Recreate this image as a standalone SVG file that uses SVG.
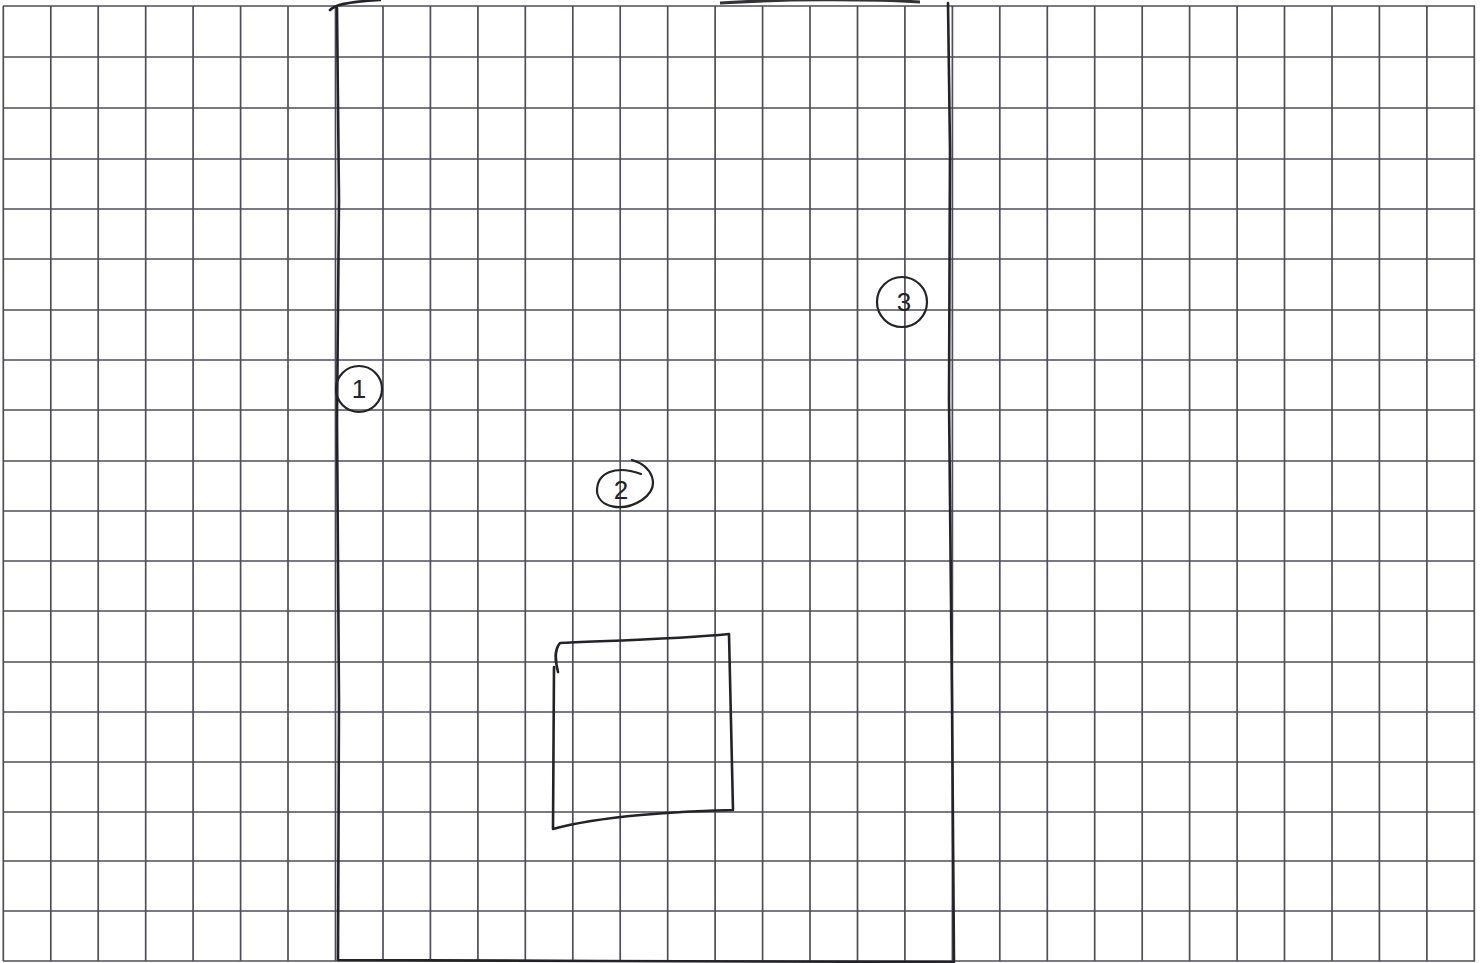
<svg xmlns="http://www.w3.org/2000/svg" width="1482" height="963" viewBox="0 0 1482 963">
<style>
.grid line{stroke:#4e4e58;stroke-width:1.7}
.ink{fill:none;stroke:#222228;stroke-width:2.6;stroke-linecap:round;stroke-linejoin:round}
.num{font-family:"Liberation Sans",Arial,sans-serif;font-size:26px;fill:#222228;text-anchor:middle}
</style>
<rect width="1482" height="963" fill="#ffffff"/>
<g id="grid" class="grid">
<line x1="3.3" y1="6" x2="3.3" y2="961"/><line x1="50.8" y1="6" x2="50.8" y2="961"/><line x1="98.2" y1="6" x2="98.2" y2="961"/><line x1="145.7" y1="6" x2="145.7" y2="961"/><line x1="193.1" y1="6" x2="193.1" y2="961"/><line x1="240.6" y1="6" x2="240.6" y2="961"/><line x1="288" y1="6" x2="288" y2="961"/><line x1="335.5" y1="6" x2="335.5" y2="961"/><line x1="383" y1="6" x2="383" y2="961"/><line x1="430.4" y1="6" x2="430.4" y2="961"/><line x1="477.9" y1="6" x2="477.9" y2="961"/><line x1="525.3" y1="6" x2="525.3" y2="961"/><line x1="572.8" y1="6" x2="572.8" y2="961"/><line x1="620.2" y1="6" x2="620.2" y2="961"/><line x1="667.7" y1="6" x2="667.7" y2="961"/><line x1="715.1" y1="6" x2="715.1" y2="961"/><line x1="762.6" y1="6" x2="762.6" y2="961"/><line x1="810" y1="6" x2="810" y2="961"/><line x1="857.5" y1="6" x2="857.5" y2="961"/><line x1="904.9" y1="6" x2="904.9" y2="961"/><line x1="952.4" y1="6" x2="952.4" y2="961"/><line x1="999.8" y1="6" x2="999.8" y2="961"/><line x1="1047.3" y1="6" x2="1047.3" y2="961"/><line x1="1094.7" y1="6" x2="1094.7" y2="961"/><line x1="1142.2" y1="6" x2="1142.2" y2="961"/><line x1="1189.6" y1="6" x2="1189.6" y2="961"/><line x1="1237.1" y1="6" x2="1237.1" y2="961"/><line x1="1284.5" y1="6" x2="1284.5" y2="961"/><line x1="1332" y1="6" x2="1332" y2="961"/><line x1="1379.4" y1="6" x2="1379.4" y2="961"/><line x1="1426.9" y1="6" x2="1426.9" y2="961"/><line x1="1474.3" y1="6" x2="1474.3" y2="961"/>
<line x1="3" y1="6" x2="1475" y2="6"/><line x1="3" y1="57" x2="1475" y2="57"/><line x1="3" y1="108" x2="1475" y2="108"/><line x1="3" y1="159" x2="1475" y2="159"/><line x1="3" y1="209" x2="1475" y2="209"/><line x1="3" y1="259" x2="1475" y2="259"/><line x1="3" y1="310" x2="1475" y2="310"/><line x1="3" y1="360" x2="1475" y2="360"/><line x1="3" y1="410" x2="1475" y2="410"/><line x1="3" y1="461" x2="1475" y2="461"/><line x1="3" y1="511" x2="1475" y2="511"/><line x1="3" y1="561" x2="1475" y2="561"/><line x1="3" y1="611" x2="1475" y2="611"/><line x1="3" y1="662" x2="1475" y2="662"/><line x1="3" y1="712" x2="1475" y2="712"/><line x1="3" y1="762" x2="1475" y2="762"/><line x1="3" y1="812" x2="1475" y2="812"/><line x1="3" y1="861" x2="1475" y2="861"/><line x1="3" y1="911" x2="1475" y2="911"/><line x1="3" y1="961" x2="1475" y2="961"/>
</g>
<g id="outer-rect">
<path class="ink" d="M337,8 L339,200 L337,420 L339,700 L338,960 L600,961 L954,962 L952,700 L949,400 L950,150 L948,3"/>
<path class="ink" d="M330,10 C335,5 345,2 380,0"/>
<path d="M720,3 C780,-1 870,-1 920,2" fill="none" stroke="#333" stroke-width="3"/>
</g>
<g id="inner-rect">
<path class="ink" d="M558,672 C555,660 554,650 560,643 C600,641 680,639 729,634 L733,810 C680,811 600,816 553,829 L554,667"/>
</g>
<g id="label-1">
<circle class="ink" cx="359" cy="389" r="23" style="stroke-width:2.2"/>
<text class="num" x="359" y="398">1</text>
</g>
<g id="label-2">
<path class="ink" style="stroke-width:2.2" d="M632,460 C652,466 662,486 642,500 C622,513 598,507 597,491 C597,472 616,465 641,474"/>
<text class="num" x="621" y="499">2</text>
</g>
<g id="label-3">
<circle class="ink" cx="902" cy="302" r="25" style="stroke-width:2.2"/>
<text class="num" x="904" y="311">3</text>
</g>
</svg>
